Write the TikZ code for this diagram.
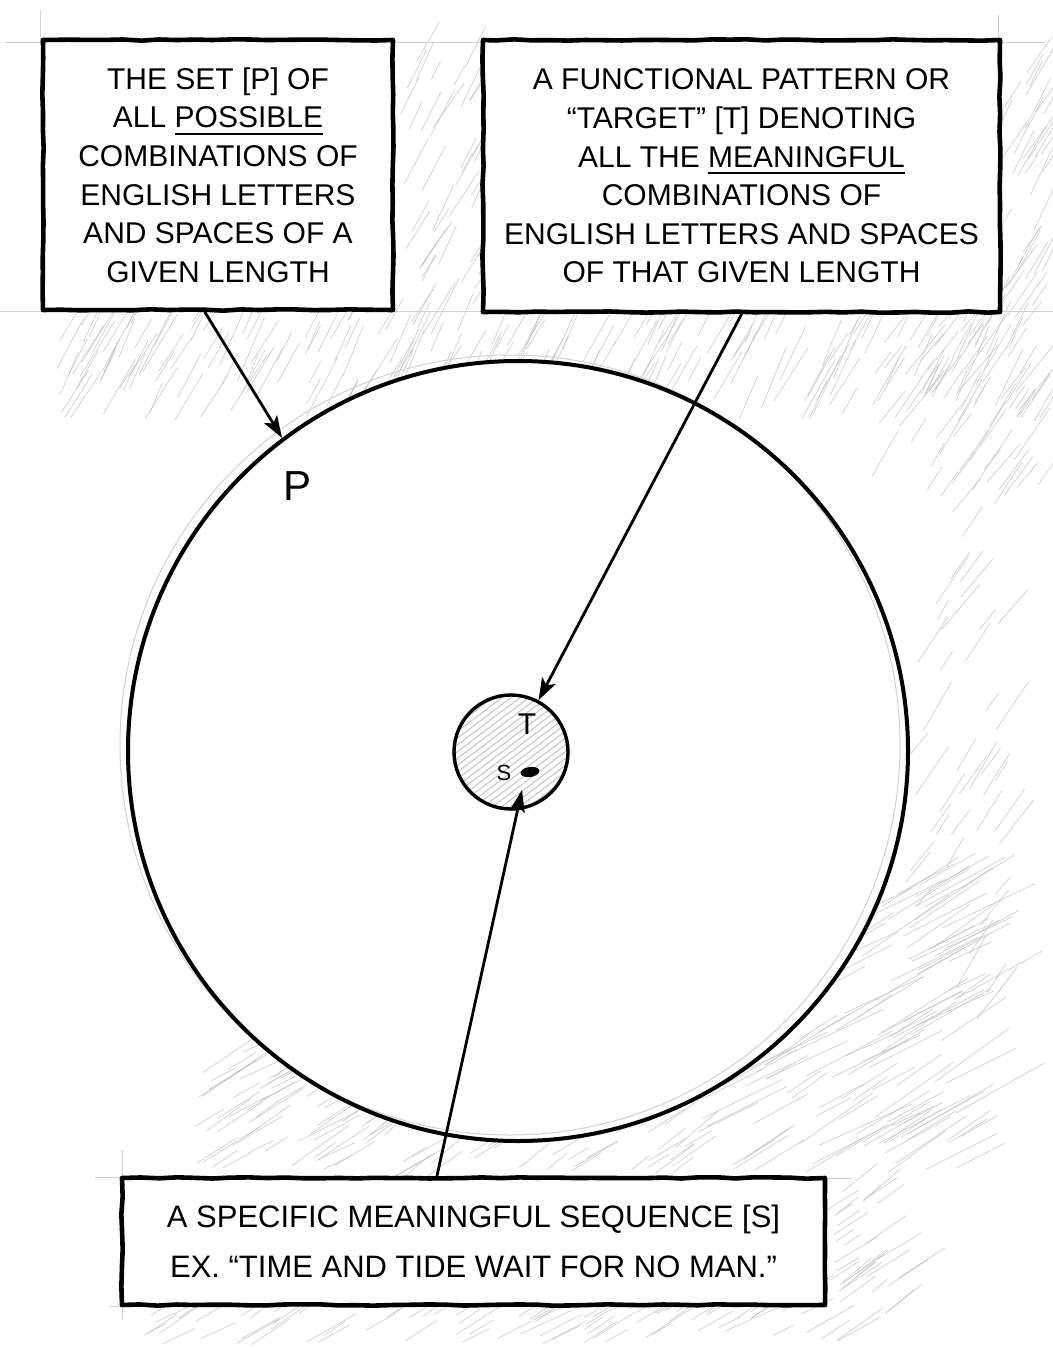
\documentclass[tikz,border=0pt]{standalone}
\usepackage{fontspec}
\setmainfont{Liberation Sans}
\usetikzlibrary{arrows.meta,decorations.pathmorphing,shapes.geometric,calc}
\newsavebox\ulbox
\newcommand\hul[1]{\sbox\ulbox{#1}\rlap{\raisebox{-3.6pt}{\rule{\wd\ulbox}{1.1pt}}}\usebox\ulbox}
\newcommand\hatcharea[7]{%
  \foreach \hk in {1,...,#6}{%
    \pgfmathsetmacro\hx{#1+rnd*(#3-#1)}%
    \pgfmathsetmacro\hy{#2+rnd*(#4-#2)}%
    \pgfmathsetmacro\hl{(0.35+0.65*rnd)*#7}%
    \pgfmathsetmacro\ht{#5+(rnd-0.5)*12}%
    \draw[hatchline] (\hx,\hy) -- ++({\hl*cos(\ht)},{-\hl*sin(\ht)});
  }}
\begin{document}
\begin{tikzpicture}[x=0.5pt,y=-0.5pt,
  hatchline/.style={draw=gray!55, line width=0.35pt, opacity=0.65, line cap=round},
  guide/.style={draw=gray!35, line width=0.4pt},
  boxstyle/.style={draw=black, line width=2.3pt, fill=white, rectangle, inner sep=0pt,
    align=center, line join=round, decorate,
    decoration={random steps, segment length=9pt, amplitude=0.35pt}},
  boxtext/.style={font=\fontsize{15}{19.3}\selectfont},
  arrowstyle/.style={line width=1.4pt, line cap=round, -{Stealth[length=11pt,width=7.5pt,inset=2.5pt]}},
  ringstyle/.style={circle, draw=black, inner sep=0pt}]
\pgfmathsetseed{12}
\useasboundingbox (0,0) rectangle (1053,1349);
\fill[white] (0,0) rectangle (1053,1349);

% pencil hatching
\hatcharea{50}{318}{1010}{420}{62}{220}{70}
\hatcharea{395}{55}{482}{310}{60}{40}{55}
\hatcharea{995}{70}{1045}{320}{60}{35}{60}
\hatcharea{870}{320}{1040}{500}{55}{60}{70}
\hatcharea{905}{480}{1000}{1020}{55}{45}{60}
\hatcharea{690}{880}{965}{1180}{30}{150}{110}
\hatcharea{190}{1050}{330}{1170}{30}{50}{70}
\hatcharea{330}{1120}{700}{1180}{35}{55}{60}
\hatcharea{140}{1305}{850}{1345}{30}{85}{60}
\hatcharea{825}{1180}{900}{1320}{35}{30}{55}

% construction lines
\draw[guide] (5,42) -- (1045,42);
\draw[guide] (0,311) -- (1053,311);
\draw[guide] (998,15) -- (998,45);
\draw[guide] (40,10) -- (40,45);
\draw[guide] (95,1177) -- (122,1177);
\draw[guide] (122,1150) -- (122,1320);
\draw[guide] (110,1306) -- (122,1306);
\draw[guide] (825,1178) -- (852,1178);

% large set P
\fill[white] (518,751) circle[radius=195pt];
\draw[gray!35, line width=0.5pt] (510,745) circle[radius=195pt];
\node[ringstyle, line width=2pt, minimum size=390pt] (P) at (518,751) {};
\node[font=\fontsize{21}{21}\selectfont] (plabel) at (298,486) {P};

% target T
\begin{scope}
  \clip (511,752) circle[radius=28.5pt];
  \foreach \i in {-14,...,14}
    \draw[gray!50, line width=0.45pt] (511+\i*9-90,752+68) -- (511+\i*9+90,752-68);
\end{scope}
\node[ringstyle, line width=1.7pt, minimum size=57pt] (T) at (511,752) {};
\node[font=\fontsize{15}{15}\selectfont] (tlabel) at (527,724) {T};
\node[font=\fontsize{11}{11}\selectfont] (slabel) at (504,773) {S};
\node[ellipse, fill=black, minimum width=9.5pt, minimum height=5pt, inner sep=0pt, rotate=8] (sdot) at (530,772) {};
\coordinate (stip) at (522,790);

% boxes
\node[boxstyle, boxtext, minimum width=175pt, minimum height=135pt] (box1) at (218,175)
  {THE SET [P] OF\\ALL \hul{POSSIBLE}\\COMBINATIONS OF\\ENGLISH LETTERS\\AND SPACES OF A\\GIVEN LENGTH};
\node[boxstyle, boxtext, minimum width=258.5pt, minimum height=136pt] (box2) at (741.5,176)
  {A FUNCTIONAL PATTERN OR\\``TARGET'' [T] DENOTING\\ALL THE \hul{MEANINGFUL}\\COMBINATIONS OF\\ENGLISH LETTERS AND SPACES\\OF THAT GIVEN LENGTH};
\node[boxstyle, font=\fontsize{15.5}{25}\selectfont, minimum width=351.5pt, minimum height=63.5pt] (box3) at (473.5,1241.5)
  {A SPECIFIC MEANINGFUL SEQUENCE [S]\\EX. ``TIME AND TIDE WAIT FOR NO MAN.''};

% arrows
\draw[arrowstyle] ([xshift=-6.5pt]box1.south) -- (P.127.7);
\draw[arrowstyle] (box2.south) -- (T.62);
\draw[arrowstyle] ([xshift=-18.25pt]box3.north) -- (stip);
\end{tikzpicture}
\end{document}
